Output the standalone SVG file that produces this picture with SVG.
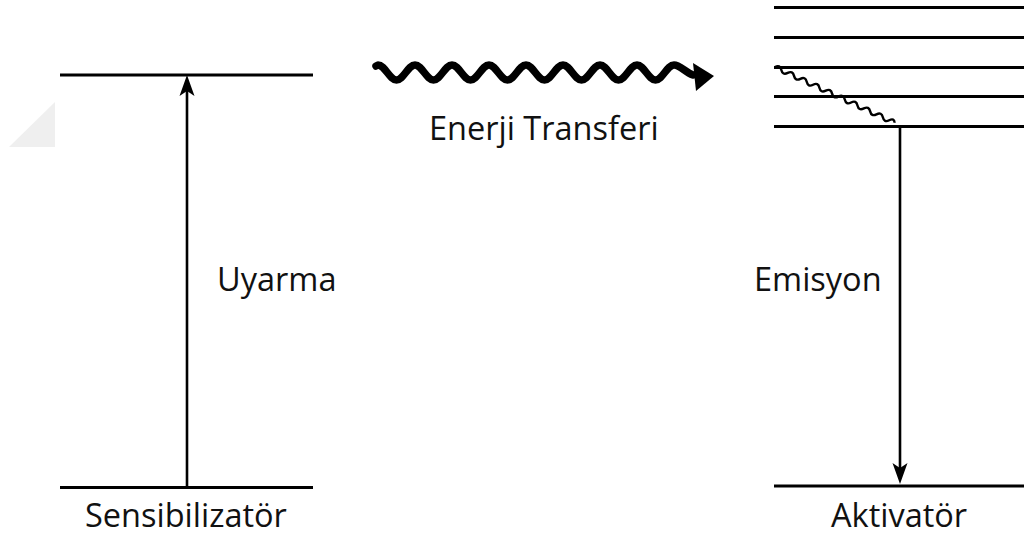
<svg xmlns="http://www.w3.org/2000/svg" width="1024" height="536" viewBox="0 0 1024 536">
  <style>
    .level { stroke: #000; stroke-width: 3; fill: none; }
    .arrow { stroke: #000; stroke-width: 2.6; fill: none; }
    .head { fill: #000; stroke: none; }
    .label { font-family: "Open Sans", "Noto Sans", sans-serif; fill: #111; font-size: 32.5px; }
  </style>
  <rect width="1024" height="536" fill="#fff"/>

  <!-- faint corner mark -->
  <polygon points="9,147 55,102 55,147" fill="#efefef"/>

  <!-- sensitizer levels -->
  <g id="sensitizer">
    <line class="level" x1="60" y1="75" x2="313" y2="75"/>
    <line class="level" x1="60" y1="487.5" x2="313" y2="487.5"/>
    <text class="label" x="85" y="527" font-size="33.5">Sensibilizatör</text>
  </g>

  <!-- activator levels -->
  <g id="activator">
    <line class="level" x1="774" y1="7.5" x2="1024" y2="7.5"/>
    <line class="level" x1="774" y1="37.5" x2="1024" y2="37.5"/>
    <line class="level" x1="774" y1="67.5" x2="1024" y2="67.5"/>
    <line class="level" x1="774" y1="96.5" x2="1024" y2="96.5"/>
    <line class="level" x1="774" y1="126.5" x2="1024" y2="126.5"/>
    <line class="level" x1="774" y1="486" x2="1024" y2="486"/>
    <text class="label" x="831" y="527">Aktivatör</text>
  </g>

  <g id="connectors">
    <!-- excitation -->
    <line class="arrow" x1="187" y1="487" x2="187" y2="88"/>
    <path class="head" d="M187,75 L194.5,96 L187,91 L179.5,96 Z"/>
    <!-- emission -->
    <line class="arrow" x1="900" y1="126" x2="900" y2="470"/>
    <path class="head" d="M900,484 L892.5,463 L900,468 L907.5,463 Z"/>
    <!-- non-radiative relaxation -->
    <path transform="translate(775,67) rotate(25)" fill="none" stroke="#000" stroke-width="2.4"
          d="M0,0 q3.5,-4.5 7,0 t7,0 t7,0 t7,0 t7,0 t7,0 t7,0 t7,0 t7,0 t7,0 t7,0 t7,0 t7,0 t7,0 t7,0 t7,0 t7,0 t7,0 t6,0"/>
    <!-- energy transfer -->
    <path fill="none" stroke="#000" stroke-width="7.5" stroke-linecap="round" stroke-linejoin="round"
          d="M376,66 L378,65 c6.7,0 11.8,15 18.5,15 s11.8,-15 18.5,-15 s11.8,15 18.5,15 s11.8,-15 18.5,-15 s11.8,15 18.5,15 s11.8,-15 18.5,-15 s11.8,15 18.5,15 s11.8,-15 18.5,-15 s11.8,15 18.5,15 s11.8,-15 18.5,-15 s11.8,15 18.5,15 s11.8,-15 18.5,-15 s11.8,15 18.5,15 s11.8,-15 18.5,-15 s11.8,15 18.5,15 s11.8,-15 18.5,-15 c6,0 11,7 19,10"/>
    <polygon class="head" points="693,63 714,76 696,91"/>
  </g>

  <g id="labels">
    <text class="label" x="217" y="291" font-size="34">Uyarma</text>
    <text class="label" x="754" y="291">Emisyon</text>
    <text class="label" x="429" y="140" font-size="30">Enerji Transferi</text>
  </g>
</svg>
